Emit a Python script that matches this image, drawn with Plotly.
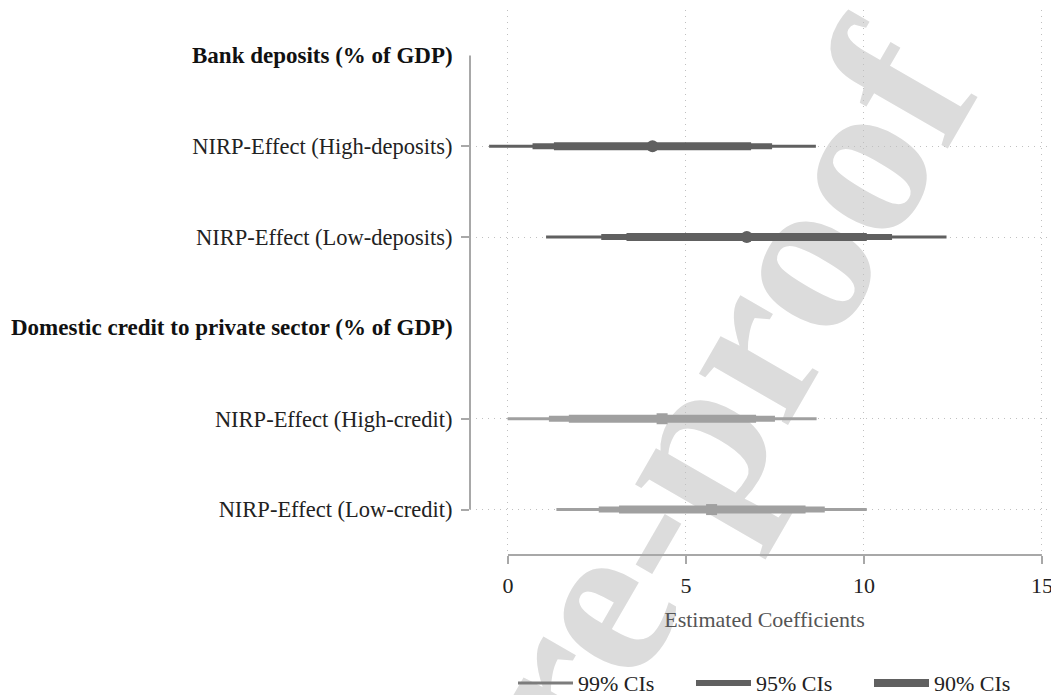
import plotly.graph_objects as go

# ---------------- data ----------------
rows = [
    "Bank deposits (% of GDP)",
    "NIRP-Effect (High-deposits)",
    "NIRP-Effect (Low-deposits)",
    "Domestic credit to private sector (% of GDP)",
    "NIRP-Effect (High-credit)",
    "NIRP-Effect (Low-credit)",
]
headers = ["Bank deposits (% of GDP)", "Domestic credit to private sector (% of GDP)"]

labels = ["NIRP-Effect (High-deposits)", "NIRP-Effect (Low-deposits)",
          "NIRP-Effect (High-credit)", "NIRP-Effect (Low-credit)"]
group = ["deposits", "deposits", "credit", "credit"]
coef = [4.06, 6.71, 4.33, 5.72]
ci99_lo = [-0.53, 1.07, -0.01, 1.36]
ci99_hi = [8.65, 12.32, 8.67, 10.08]
ci95_lo = [0.69, 2.62, 1.15, 2.55]
ci95_hi = [7.42, 10.79, 7.50, 8.90]
ci90_lo = [1.29, 3.33, 1.71, 3.12]
ci90_hi = [6.83, 10.08, 6.97, 8.36]

x_ticks = [0, 5, 10, 15]
legend_names = ["99% CIs", "95% CIs", "90% CIs"]

# ---------------- style ----------------
FONT = "Liberation Serif"
col = {"deposits": "#606060", "credit": "#a0a0a0"}
sym = {"deposits": "circle", "credit": "square"}
axis_col = "#a8a8a8"
grid_col = "#c0c0c0"

fig = go.Figure()

widths = [3, 6, 8]
for lo_arr, hi_arr, w in [(ci99_lo, ci99_hi, widths[0]), (ci95_lo, ci95_hi, widths[1]),
                          (ci90_lo, ci90_hi, widths[2])]:
    for i, lab in enumerate(labels):
        fig.add_trace(go.Scatter(
            x=[lo_arr[i], hi_arr[i]], y=[lab, lab], mode="lines",
            line=dict(color=col[group[i]], width=w),
            showlegend=False, hoverinfo="skip"))

for i, lab in enumerate(labels):
    fig.add_trace(go.Scatter(
        x=[coef[i]], y=[lab], mode="markers",
        marker=dict(color=col[group[i]], symbol=sym[group[i]],
                    size=12 if group[i] == "deposits" else 11, line=dict(width=0)),
        showlegend=False))

# legend entries
leg_cols = ["#7c7c7c", "#606060", "#606060"]
for name, w, c in zip(legend_names, widths, leg_cols):
    fig.add_trace(go.Scatter(x=[None], y=[None], mode="lines", name=name,
                             line=dict(color=c, width=w)))

# header labels
for h in headers:
    fig.add_annotation(x=0, xref="paper", y=h, yref="y", text="<b>" + h + "</b>",
                       showarrow=False, xanchor="right", xshift=-15,
                       font=dict(family=FONT, size=23, color="#111111"))

# axis lines (Stata style)
fig.add_shape(type="line", xref="x", yref="paper", x0=x_ticks[0], x1=x_ticks[-1], y0=0, y1=0,
              line=dict(color=axis_col, width=2))
fig.add_shape(type="line", xref="paper", yref="y", x0=0, x1=0, y0=rows[0], y1=rows[-1],
              line=dict(color=axis_col, width=2))

# watermark
cx, cy = -0.011, -0.426
fig.add_shape(type="rect", xref="paper", yref="paper", x0=cx - 0.005, x1=cx + 0.005,
              y0=cy - 0.005, y1=cy + 0.005, line=dict(width=0), fillcolor="rgba(0,0,0,0)",
              layer="below",
              label=dict(text="<b>Journal Pre-proof</b>", textangle=-60,
                         textposition="middle center",
                         font=dict(family=FONT, size=224, color="#dcdcdc")))

fig.update_xaxes(range=[-1.067, 15.48], tickvals=x_ticks, ticks="outside", ticklen=8,
                 tickwidth=2, tickcolor=axis_col, showline=False, zeroline=False,
                 showgrid=True, gridcolor=grid_col, griddash="1px,5px", gridwidth=1,
                 ticklabelstandoff=3, automargin=False,
                 tickfont=dict(family=FONT, size=22, color="#222222"),
                 title=dict(text="Estimated Coefficients", standoff=14,
                            font=dict(family=FONT, size=22, color="#555555")))
fig.update_yaxes(type="category", categoryorder="array", categoryarray=rows,
                 range=[5.5, -0.5], tickvals=labels, ticks="outside", ticklen=8,
                 tickwidth=2, tickcolor=axis_col, showline=False, zeroline=False,
                 showgrid=True, gridcolor=grid_col, griddash="1px,5px", gridwidth=1,
                 ticklabelstandoff=4, automargin=False,
                 tickfont=dict(family=FONT, size=22.5, color="#222222"))

fig.update_layout(
    width=1051, height=687,
    margin=dict(l=462, r=0, t=2, b=140, autoexpand=False),
    paper_bgcolor="white", plot_bgcolor="white",
    showlegend=True,
    legend=dict(orientation="h", x=0.073, xanchor="left", y=-0.235, yanchor="middle",
                font=dict(family=FONT, size=22, color="#222222"),
                itemwidth=55, entrywidth=108, bgcolor="rgba(0,0,0,0)"),
)

fig.write_html("out.html")
